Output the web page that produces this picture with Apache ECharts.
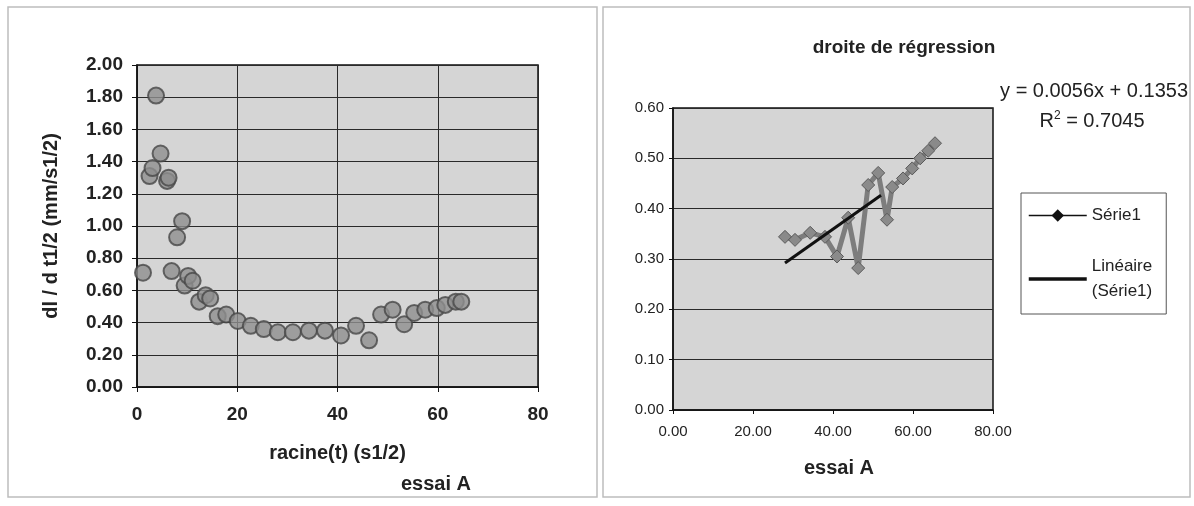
<!DOCTYPE html>
<html>
<head>
<meta charset="utf-8">
<script src="https://cdn.jsdelivr.net/npm/echarts@6/dist/echarts.min.js"></script>
<style>
html,body{margin:0;padding:0;background:#fff;}
#c{width:1194px;height:506px;}
</style>
</head>
<body>
<div id="c"></div>
<script>
// ---- Left chart data (racine(t), dl/dt1/2) ----
const leftX = [1.2,2.5,3.1,3.8,4.7,6.0,6.3,6.9,8.0,9.0,9.5,10.2,11.1,12.4,13.7,14.6,16.1,17.8,20.1,22.7,25.3,28.1,31.1,34.3,37.5,40.7,43.7,46.3,48.7,51.0,53.3,55.3,57.5,59.8,61.5,63.6,64.7];
const leftY = [0.71,1.31,1.36,1.81,1.45,1.28,1.30,0.72,0.93,1.03,0.63,0.69,0.66,0.53,0.57,0.55,0.44,0.45,0.41,0.38,0.36,0.34,0.34,0.35,0.35,0.32,0.38,0.29,0.45,0.48,0.39,0.46,0.48,0.49,0.51,0.53,0.53];

// ---- Right chart data (Série1) ----
const rightX = [28.0,30.5,34.3,38.0,41.0,43.8,46.3,48.8,51.3,53.5,54.8,57.5,59.8,61.8,63.8,65.5];
const rightY = [0.344,0.338,0.352,0.344,0.305,0.382,0.282,0.447,0.471,0.378,0.443,0.46,0.48,0.50,0.515,0.53];

// ---- Trend line (Linéaire) ----
const trendSlope = 0.0056;
const trendIntercept = 0.1353;
const trendRange = [28, 52];

// ---- Tick settings ----
const leftXTicks = {min:0, max:80, interval:20};
const leftYTicks = {min:0, max:2, interval:0.2};
const rightXTicks = {min:0, max:80, interval:20};
const rightYTicks = {min:0, max:0.6, interval:0.1};

const FONT = "'Liberation Sans', Arial, sans-serif";

const leftData = leftX.map((x,i)=>[x,leftY[i]]);
const rightData = rightX.map((x,i)=>[x,rightY[i]]);
const trendData = trendRange.map(x=>[x, trendSlope*x + trendIntercept]);

const chart = echarts.init(document.getElementById('c'), null, {renderer:'canvas'});
const option = {
  backgroundColor:'#fff',
  animation:false,
  title:[
    {text:'droite de régression', left:899, top:33, textAlign:'center',
     textStyle:{fontFamily:FONT, fontSize:19, fontWeight:'bold', color:'#222'}},
    {text:'essai A', left:431, top:469, textAlign:'center',
     textStyle:{fontFamily:FONT, fontSize:20, fontWeight:'bold', color:'#222'}},
    {text:'essai A', left:834, top:453, textAlign:'center',
     textStyle:{fontFamily:FONT, fontSize:20, fontWeight:'bold', color:'#222'}},
    {text:'y = 0.0056x + 0.1353', left:1183, top:76, textAlign:'right',
     textStyle:{fontFamily:FONT, fontSize:20, fontWeight:'normal', color:'#222'}},
    {text:'R{s|2} = 0.7045', left:1087, top:105, textAlign:'center',
     textStyle:{fontFamily:FONT, fontSize:20, fontWeight:'normal', color:'#222',
       rich:{s:{fontFamily:FONT, fontSize:12, verticalAlign:'top', padding:[0,0,10,0], color:'#222'}}}}
  ],
  graphic:[
    {type:'rect', shape:{x:8, y:7, width:589, height:490}, style:{fill:'none', stroke:'#bdbdbd', lineWidth:1.5}, z:-1},
    {type:'rect', shape:{x:603, y:7, width:587, height:490}, style:{fill:'none', stroke:'#bdbdbd', lineWidth:1.5}, z:-1}
  ],
  legend:{
    orient:'vertical', left:1021, top:193,
    padding:[10,14,10,6], itemGap:26, itemWidth:58, itemHeight:12,
    borderColor:'#555', borderWidth:1, backgroundColor:'#fff',
    textStyle:{fontFamily:FONT, fontSize:17, color:'#222', lineHeight:25},
    data:[
      {name:'Série1', itemStyle:{color:'#111', borderColor:'#111'}, lineStyle:{color:'#111', width:1.5}},
      {name:'Linéaire\n(Série1)', itemStyle:{opacity:0}, lineStyle:{color:'#111', width:3.5, opacity:1}}
    ]
  },
  grid:[
    {left:137, top:65, width:401, height:322, show:true, backgroundColor:'#d5d5d5', borderColor:'#111', borderWidth:1.5},
    {left:673, top:108, width:320, height:302, show:true, backgroundColor:'#d5d5d5', borderColor:'#111', borderWidth:1.5}
  ],
  xAxis:[
    {gridIndex:0, type:'value', min:leftXTicks.min, max:leftXTicks.max, interval:leftXTicks.interval,
     name:'racine(t) (s1/2)', nameLocation:'middle', nameGap:56,
     nameTextStyle:{fontFamily:FONT, fontSize:20, fontWeight:'bold', color:'#222'},
     axisLine:{lineStyle:{color:'#111', width:1.5}},
     axisTick:{show:true, length:5, lineStyle:{color:'#111'}},
     axisLabel:{fontFamily:FONT, fontSize:19, fontWeight:'bold', color:'#222', margin:18},
     splitLine:{show:true, lineStyle:{color:'#2a2a2a', width:1}}},
    {gridIndex:1, type:'value', min:rightXTicks.min, max:rightXTicks.max, interval:rightXTicks.interval,
     axisLine:{lineStyle:{color:'#111', width:1.5}},
     axisTick:{show:true, length:4, lineStyle:{color:'#111'}},
     axisLabel:{fontFamily:FONT, fontSize:15, color:'#222', margin:14, formatter:v=>v.toFixed(2)},
     splitLine:{show:false}}
  ],
  yAxis:[
    {gridIndex:0, type:'value', min:leftYTicks.min, max:leftYTicks.max, interval:leftYTicks.interval,
     name:'dl / d t1/2 (mm/s1/2)', nameLocation:'middle', nameGap:76,
     nameTextStyle:{fontFamily:FONT, fontSize:20, fontWeight:'bold', color:'#222'},
     axisLine:{show:true, lineStyle:{color:'#111', width:1.5}},
     axisTick:{show:true, length:5, lineStyle:{color:'#111'}},
     axisLabel:{fontFamily:FONT, fontSize:19, fontWeight:'bold', color:'#222', margin:14, formatter:v=>v.toFixed(2)},
     splitLine:{show:true, lineStyle:{color:'#2a2a2a', width:1}}},
    {gridIndex:1, type:'value', min:rightYTicks.min, max:rightYTicks.max, interval:rightYTicks.interval,
     axisLine:{show:true, lineStyle:{color:'#111', width:1.5}},
     axisTick:{show:true, length:4, lineStyle:{color:'#111'}},
     axisLabel:{fontFamily:FONT, fontSize:15, color:'#222', margin:9, formatter:v=>v.toFixed(2)},
     splitLine:{show:true, lineStyle:{color:'#2a2a2a', width:1}}}
  ],
  series:[
    {type:'scatter', xAxisIndex:0, yAxisIndex:0, data:leftData, symbol:'circle', symbolSize:16,
     itemStyle:{color:'#8e8e8e', borderColor:'#474747', borderWidth:2}},
    {name:'Série1', type:'line', xAxisIndex:1, yAxisIndex:1, data:rightData,
     symbol:'diamond', symbolSize:13, showSymbol:true,
     lineStyle:{color:'#7d7d7d', width:5},
     itemStyle:{color:'#8a8a8a', borderColor:'#5a5a5a', borderWidth:1}, z:2},
    {name:'Linéaire\n(Série1)', type:'line', xAxisIndex:1, yAxisIndex:1, data:trendData,
     showSymbol:false, symbol:'none', lineStyle:{color:'#111', width:3}, z:3}
  ]
};
chart.setOption(option);
</script>
</body>
</html>
